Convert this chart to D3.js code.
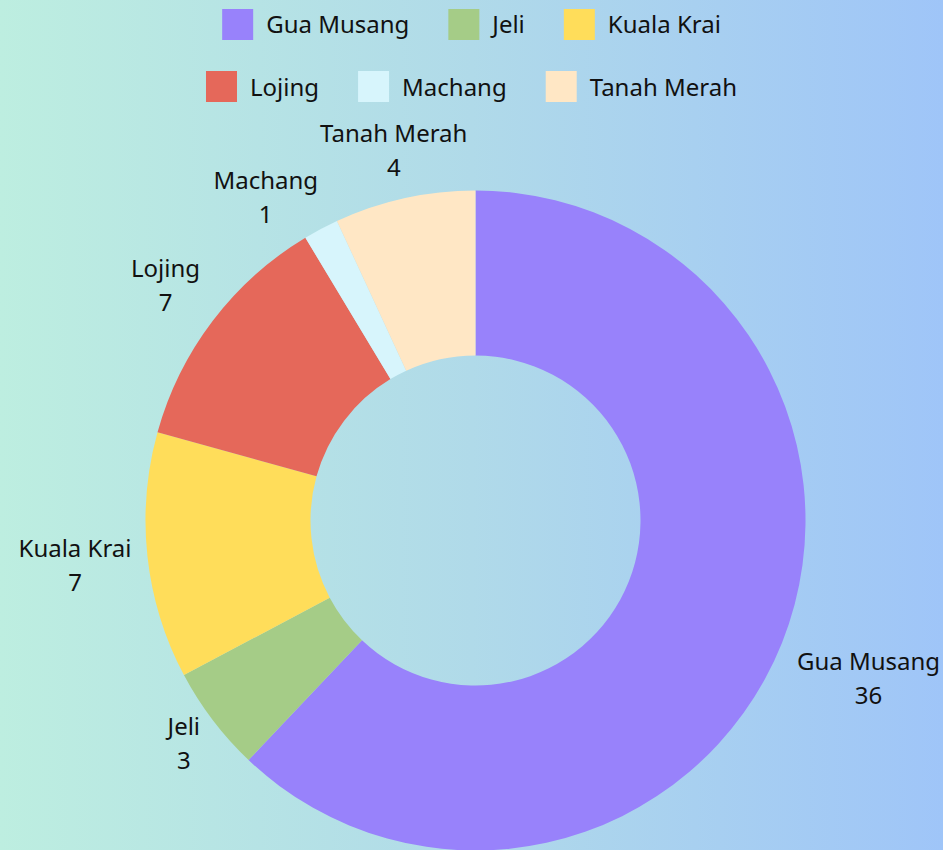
<!DOCTYPE html>
<html>
<head>
<meta charset="utf-8">
<script src="https://cdn.jsdelivr.net/npm/d3@7"></script>
<style>
  body { margin: 0; }
  svg { display: block; }
</style>
</head>
<body>
<div id="chart"></div>
<script>
var districts = ['Gua Musang', 'Jeli', 'Kuala Krai', 'Lojing', 'Machang', 'Tanah Merah']
var counts = [36, 3, 7, 7, 1, 4]
var colours = ['#9882fb', '#a5cc87', '#ffdd5a', '#e5685a', '#d7f5fc', '#ffe7c5']

var width = 943
var height = 850
var cx = 475.5
var cy = 520.5
var outer = 330
var inner = 165
var font = '"Noto Sans", sans-serif'

var data = districts.map((name, i) => ({name: name, count: counts[i], colour: colours[i]}))

var svg = d3.select('#chart')
    .append('svg')
    .attr('width', width)
    .attr('height', height)

var grad = svg.append('defs').append('linearGradient')
    .attr('id', 'bg')
    .attr('x1', 0).attr('x2', 1).attr('y1', 0).attr('y2', 0)
grad.append('stop').attr('offset', '0%').attr('stop-color', '#bdeee0')
grad.append('stop').attr('offset', '50%').attr('stop-color', '#b0dae9')
grad.append('stop').attr('offset', '100%').attr('stop-color', '#9fc5f8')

svg.append('rect')
    .attr('width', width)
    .attr('height', height)
    .attr('fill', 'url(#bg)')

// donut
var pie = d3.pie().sort(null).value(d => d.count)
var arc = d3.arc().innerRadius(inner).outerRadius(outer)
var arcs = pie(data)

var g = svg.append('g').attr('transform', `translate(${cx}, ${cy})`)

g.selectAll('path')
    .data(arcs)
    .enter().append('path')
    .attr('d', arc)
    .attr('fill', d => d.data.colour)

// labels: name + value, box touching a point just outside the ring
var labelG = g.append('g')
var labels = arcs.map(d => {
    var el = labelG.append('text')
        .attr('font-family', font)
        .attr('font-size', 24)
        .attr('fill', '#111')
        .attr('text-anchor', 'middle')
    el.append('tspan').attr('x', 0).attr('y', 0).text(d.data.name)
    el.append('tspan').attr('x', 0).attr('y', 34).text(d.data.count)
    var bb = el.node().getBBox()
    return {el: el, bb: bb, value: d.data.count, angle: (d.startAngle + d.endAngle) / 2}
})

function boxAt(l, a) {
    var vx = Math.sin(a), vy = -Math.cos(a)
    var off = 16
    var t = Math.min(l.bb.width / 2 / Math.max(Math.abs(vx), 1e-6), l.bb.height / 2 / Math.max(Math.abs(vy), 1e-6))
    var x = vx * (outer + off + t)
    var y = vy * (outer + off + t)
    return {x: x - l.bb.width / 2, y: y - l.bb.height / 2, w: l.bb.width, h: l.bb.height}
}

function overlap(a, b) {
    return a.x < b.x + b.w && b.x < a.x + a.w && a.y < b.y + b.h && b.y < a.y + a.h
}

var placed = []
labels.slice().sort((a, b) => b.value - a.value).forEach(l => {
    var a = l.angle
    var box = boxAt(l, a)
    for (var step = 0; step < 120; step++) {
        var hit = placed.find(p => overlap(box, p.box))
        if (!hit) break
        a += (a < hit.angle ? -1 : 1) * Math.PI / 360
        box = boxAt(l, a)
    }
    l.box = box
    placed.push(l)
    l.el.attr('transform', `translate(${box.x - l.bb.x}, ${box.y - l.bb.y})`)
})

// legend, two centred rows of three
var legend = svg.append('g')
var rows = [data.slice(0, 3), data.slice(3)]
var sq = 31
rows.forEach((row, r) => {
    var rowG = legend.append('g')
    var x = 0
    row.forEach(d => {
        rowG.append('rect')
            .attr('x', x)
            .attr('y', 9 + r * 62)
            .attr('width', sq)
            .attr('height', sq)
            .attr('fill', d.colour)
        var t = rowG.append('text')
            .attr('x', x + sq + 13)
            .attr('y', 33 + r * 63)
            .attr('font-family', font)
            .attr('font-size', 24)
            .attr('fill', '#111')
            .text(d.name)
        x += sq + 13 + t.node().getComputedTextLength() + 39
    })
    var w = x - 39
    rowG.attr('transform', `translate(${width / 2 - w / 2}, 0)`)
})
</script>
</body>
</html>
